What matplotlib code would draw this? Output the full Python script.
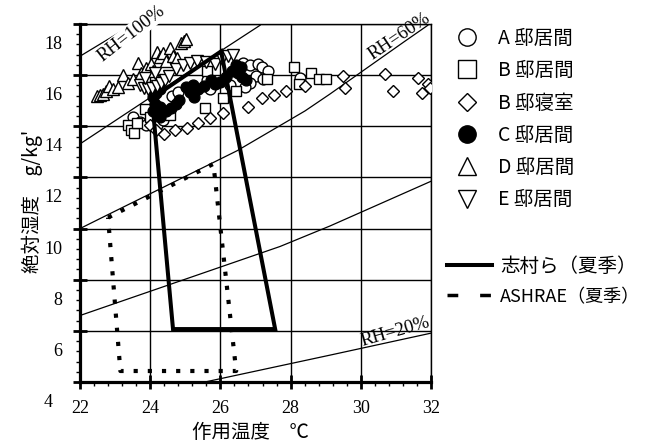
import matplotlib
matplotlib.use("Agg")
import matplotlib.pyplot as plt
import matplotlib.transforms as mtransforms
from matplotlib.lines import Line2D
from matplotlib.ticker import MultipleLocator

plt.rcParams['font.family'] = ['Liberation Serif', 'DejaVu Sans']
JP = ['Noto Sans CJK JP', 'DejaVu Sans']

# 測定値 (作用温度 ℃, 絶対湿度 g/kg')
a_t = [23.51, 23.71, 23.88, 24.19, 24.36, 24.62, 24.79, 25.22, 25.62, 25.70, 26.27,
       26.64, 26.84, 27.07, 27.19, 27.36, 27.01, 26.84, 26.70, 27.21, 28.27]
a_w = [15.36, 15.17, 15.05, 15.05, 15.25, 16.18, 16.34, 16.53, 16.81, 16.45, 16.61,
       17.47, 17.39, 17.43, 17.31, 17.16, 16.96, 16.69, 16.53, 16.84, 16.88]

b_t = [23.37, 23.45, 23.54, 23.62, 23.85, 23.99, 24.56, 25.56, 25.62, 26.07, 26.44,
       27.33, 28.10, 28.24, 28.58, 28.81, 29.01]
b_w = [15.05, 14.86, 14.74, 15.13, 15.68, 15.36, 15.44, 15.71, 17.16, 16.10, 16.38,
       16.84, 17.31, 16.65, 17.08, 16.84, 16.84]

bs_t = [23.99, 24.17, 24.39, 24.71, 25.05, 25.36, 25.70, 26.07, 26.79, 27.19, 27.53,
        27.87, 28.41, 29.49, 29.55, 30.69, 30.92, 31.63, 31.74, 31.91, 31.97]
bs_w = [15.05, 14.86, 14.70, 14.86, 14.94, 15.13, 15.32, 15.52, 15.75, 16.10, 16.22,
        16.38, 16.57, 16.96, 16.49, 17.04, 16.38, 16.88, 16.30, 16.65, 16.49]

c_t = [24.08, 24.14, 24.08, 24.19, 24.28, 24.28, 24.45, 24.59, 24.74, 24.82, 24.17,
       24.28, 25.02, 25.13, 25.25, 25.22, 25.36, 25.53, 25.73, 25.85, 25.99, 26.16,
       26.33, 26.44, 26.50, 26.62, 26.73, 26.59]
c_w = [16.14, 15.87, 15.60, 15.52, 15.36, 15.75, 15.60, 15.71, 15.87, 16.03, 16.30,
       16.45, 16.53, 16.34, 16.14, 16.61, 16.45, 16.57, 16.81, 16.65, 16.73, 16.92,
       17.16, 17.39, 17.08, 16.92, 16.81, 17.31]

d_t = [22.48, 22.57, 22.66, 22.74, 22.83, 22.94, 23.08, 23.23, 23.37, 23.51, 23.65,
       23.74, 23.88, 24.02, 24.08, 24.19, 24.28, 24.36, 24.45, 24.56, 24.65, 24.76,
       24.88, 24.96, 25.02]
d_w = [16.18, 16.22, 16.26, 16.38, 16.57, 16.45, 16.53, 17.00, 16.69, 16.84, 17.47,
       17.08, 17.27, 17.43, 17.16, 17.90, 17.70, 17.86, 17.55, 18.05, 17.74, 17.66,
       18.25, 18.32, 18.40]

e_t = [23.71, 23.82, 23.94, 24.05, 24.19, 24.31, 24.42, 24.54, 23.85, 24.14, 24.74,
       24.93, 25.13, 25.33, 25.59, 25.85, 26.05, 26.22, 26.36]
e_w = [16.61, 16.49, 16.45, 16.49, 16.57, 16.69, 16.81, 16.96, 16.88, 17.08, 17.23,
       17.39, 17.47, 17.55, 17.51, 17.43, 17.62, 17.74, 17.78]

# 相対湿度線
rh100_t, rh100_w = [22.0, 23.52], [17.74, 19.0]
rh80_t, rh80_w = [22.0, 25.99, 27.13], [14.31, 17.93, 18.95]
rh60_t, rh60_w = [22.0, 22.57, 26.47, 28.41, 29.12, 31.26, 31.91], [11.0, 11.39, 14.04, 15.60, 16.26, 18.33, 18.95]
rh40_t, rh40_w = [22.0, 27.70, 29.12, 32.0], [7.6, 10.3, 11.1, 12.85]
rh20_t, rh20_w = [25.56, 29.12, 32.0], [5.0, 6.05, 6.91]

# 快適域
shimura_t = [24.05, 26.02, 27.56, 24.65, 24.05]
shimura_w = [16.10, 17.93, 7.07, 7.07, 16.10]
ashrae_t = [22.80, 25.80, 26.45, 23.15, 22.80]
ashrae_w = [11.43, 13.53, 5.43, 5.43, 11.43]

ytick_vals = [4, 6, 8, 10, 12, 14, 16, 18]

fig = plt.figure(figsize=(6.49, 4.42), dpi=100)
ax = fig.add_axes([80 / 649, 1 - 382 / 442, 351 / 649, 358 / 442])
ax.set_xlim(22, 32)
ax.set_ylim(5, 19)

ax.xaxis.set_major_locator(MultipleLocator(2))
ax.xaxis.set_minor_locator(MultipleLocator(0.4))
ax.yaxis.set_major_locator(MultipleLocator(2, offset=1))
ax.yaxis.set_minor_locator(MultipleLocator(0.4, offset=0.2))
ax.grid(True, which='major', color='black', lw=1.0)
ax.set_axisbelow(True)
ax.tick_params(which='major', direction='inout', length=10, width=2.0,
               labelsize=13, pad=8)
ax.tick_params(which='minor', direction='out', length=3, width=1.0)
ax.tick_params(axis='y', labelleft=False)
for s in ['left', 'bottom']:
    ax.spines[s].set_linewidth(2.3)
for s in ['top', 'right']:
    ax.spines[s].set_linewidth(1.0)

# 縦軸目盛り
trans = mtransforms.blended_transform_factory(ax.transAxes, ax.transData)
for v in ytick_vals:
    xpos = -0.077 if v == 4 else -0.051
    ax.text(xpos, v + 0.2, str(v), transform=trans, ha='right', va='center',
            fontsize=13, clip_on=False)

for t, w in [(rh100_t, rh100_w), (rh80_t, rh80_w), (rh60_t, rh60_w),
             (rh40_t, rh40_w), (rh20_t, rh20_w)]:
    ax.plot(t, w, color='black', lw=0.9, zorder=2)

ax.text(23.45, 18.62, 'RH=100%', rotation=38, ha='center', va='center', fontsize=13.5,
        rotation_mode='anchor', zorder=6, clip_on=False,
        bbox=dict(facecolor='white', edgecolor='none', pad=0.5))
ax.text(31.1, 18.5, 'RH=60%', rotation=34, ha='center', va='center', fontsize=13.5,
        rotation_mode='anchor', zorder=6, clip_on=False)
ax.text(30.97, 6.95, 'RH=20%', rotation=16, ha='center', va='center', fontsize=13.5,
        rotation_mode='anchor', zorder=6)

mk = dict(linestyle='none', mec='black', mew=1.0, zorder=4)
ax.plot(a_t, a_w, marker='o', ms=7.8, mfc='white', label='A 邸居間', **mk)
ax.plot(b_t, b_w, marker='s', ms=7.8, mfc='white', label='B 邸居間', **mk)
ax.plot(bs_t, bs_w, marker='D', ms=6.0, mfc='white', label='B 邸寝室', **mk)
ax.plot(c_t, c_w, marker='o', ms=7.8, mfc='black', label='C 邸居間', **mk)
ax.plot(d_t, d_w, marker='^', ms=8.0, mfc='white', label='D 邸居間', **mk)
ax.plot(e_t, e_w, marker='v', ms=8.0, mfc='white', label='E 邸居間', **mk)

ax.plot(shimura_t, shimura_w, color='black', lw=2.9, solid_joinstyle='miter',
        zorder=5)
ax.plot(ashrae_t, ashrae_w, color='black', lw=3.0, linestyle=(0, (1, 2.4)),
        dash_capstyle='butt', zorder=5)

leg1 = ax.legend(loc='upper left', bbox_to_anchor=(457 / 649, 1 - 28 / 442),
                 bbox_transform=fig.transFigure, frameon=False, prop={'family': JP, 'size': 14},
                 handlelength=1.0, handletextpad=1.1, labelspacing=0.58,
                 borderpad=0, borderaxespad=0, markerscale=1.6, numpoints=1)
ax.add_artist(leg1)

line_handles = [Line2D([], [], color='black', lw=2.9),
                Line2D([], [], color='black', lw=2.5, linestyle=(0, (3.1, 6.3)),
                       dash_capstyle='butt')]
leg2 = ax.legend(line_handles, ['志村ら（夏季）', 'ASHRAE（夏季）'], loc='upper left',
                 bbox_to_anchor=(447 / 649, 1 - 256 / 442), bbox_transform=fig.transFigure,
                 frameon=False, prop={'family': JP, 'size': 14}, handlelength=2.32,
                 handletextpad=0.41, labelspacing=0.57, borderpad=0, borderaxespad=0)
leg2.get_texts()[1].set_fontsize(13)

fig.text(251 / 649, 1 - 432 / 442, '作用温度　℃', family=JP, fontsize=14,
         ha='center', va='center')
fig.text(32 / 649, 1 - 201 / 442, "絶対湿度　g/kg'", family=JP, fontsize=14,
         ha='center', va='center', rotation=90)

fig.savefig('out.png', dpi=100)
